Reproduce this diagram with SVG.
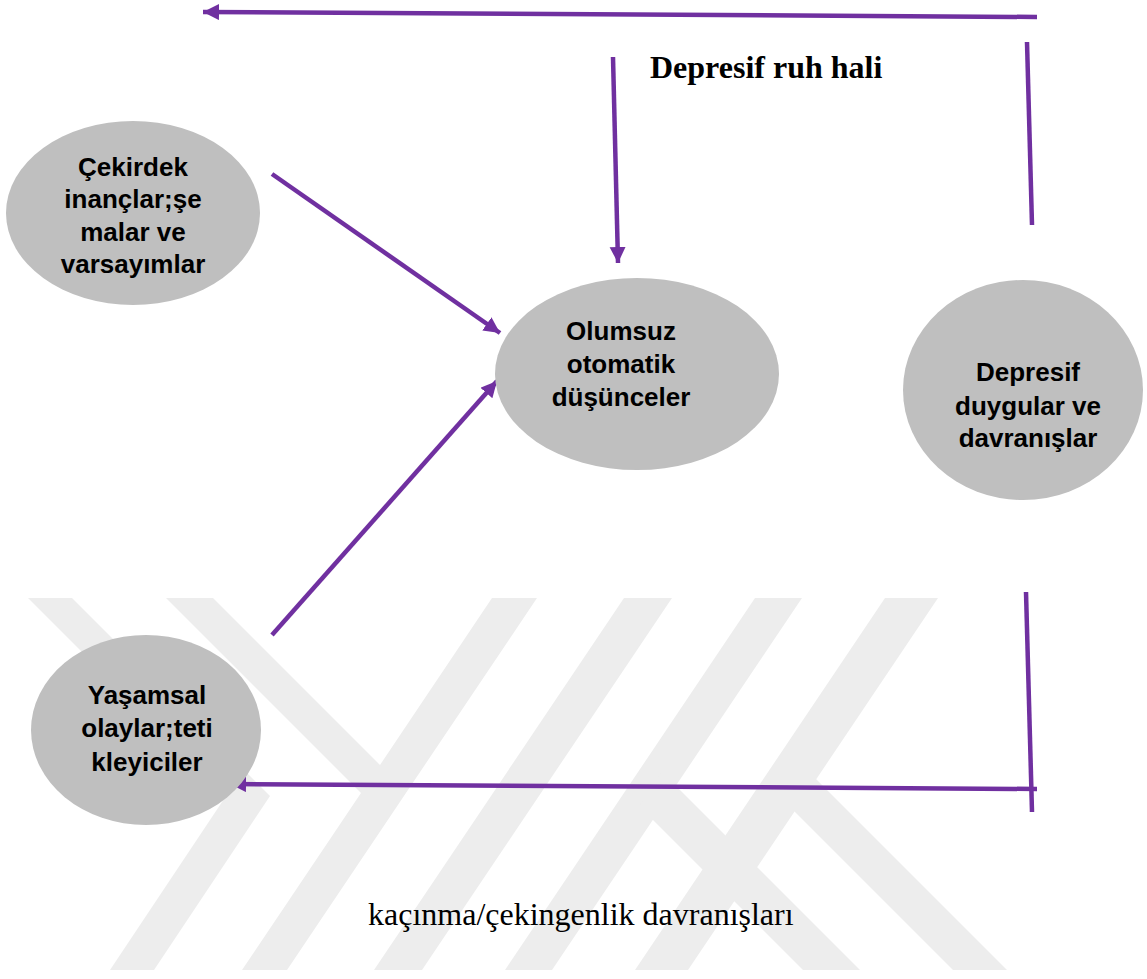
<svg xmlns="http://www.w3.org/2000/svg" width="1147" height="979" viewBox="0 0 1147 979">
  <style>
    .wm { fill: #ededed; }
    .node { fill: #bfbfbf; }
    .lbl { font-family: "Liberation Sans", Arial, sans-serif; font-weight: bold; font-size: 26px; fill: #000; text-anchor: middle; }
    .cap { font-family: "Liberation Serif", "Times New Roman", serif; font-size: 32px; fill: #000; }
    .con { stroke: #7030A0; stroke-width: 4.5; fill: none; }
  </style>
  <defs>
    <marker id="ah" markerUnits="userSpaceOnUse" markerWidth="20" markerHeight="18" refX="16" refY="8" orient="auto">
      <path d="M0,0 L16,8 L0,16 Z" fill="#7030A0"/>
    </marker>
  </defs>
  <rect width="1147" height="979" fill="#ffffff"/>
  <g id="watermark">
    <polygon class="wm" points="28,598 72,598 270,796 154,970 110,970 226,796"/>
    <polygon class="wm" points="166,598 213,598 380,765 492,598 537,598 287,970 242,970 361,793"/>
    <polygon class="wm" points="624,598 672,598 422,970 374,970"/>
    <polygon class="wm" points="755,598 802,598 552,970 505,970"/>
    <polygon class="wm" points="885,598 938,598 688,970 635,970"/>
    <polygon class="wm" points="662,772 860,970 803,970 639,806"/>
    <polygon class="wm" points="800,763 1007,970 953,970 778,795"/>
  </g>
  <g id="connectors">
    <line class="con" x1="1037" y1="17" x2="203" y2="12" marker-end="url(#ah)"/>
    <line class="con" x1="1027" y1="42" x2="1032" y2="225"/>
    <line class="con" x1="613" y1="57" x2="618" y2="263" marker-end="url(#ah)"/>
    <line class="con" x1="272" y1="174" x2="500" y2="333" marker-end="url(#ah)"/>
    <line class="con" x1="272" y1="635" x2="497" y2="381" marker-end="url(#ah)"/>
    <line class="con" x1="1026" y1="592" x2="1032" y2="812"/>
    <line class="con" x1="1037" y1="789" x2="230" y2="784" marker-end="url(#ah)"/>
  </g>
  <g id="node-cekirdek">
    <ellipse class="node" cx="133" cy="213" rx="127" ry="92"/>
    <text class="lbl" x="133" y="176">Çekirdek</text>
    <text class="lbl" x="133" y="208">inançlar;şe</text>
    <text class="lbl" x="133" y="241">malar ve</text>
    <text class="lbl" x="133" y="273">varsayımlar</text>
  </g>
  <g id="node-olumsuz">
    <ellipse class="node" cx="637" cy="374" rx="142" ry="96"/>
    <text class="lbl" x="621" y="340">Olumsuz</text>
    <text class="lbl" x="621" y="373">otomatik</text>
    <text class="lbl" x="621" y="406">düşünceler</text>
  </g>
  <g id="node-depresif">
    <ellipse class="node" cx="1023" cy="390" rx="120" ry="110"/>
    <text class="lbl" x="1028" y="381">Depresif</text>
    <text class="lbl" x="1028" y="415">duygular ve</text>
    <text class="lbl" x="1028" y="447">davranışlar</text>
  </g>
  <g id="node-yasamsal">
    <ellipse class="node" cx="146" cy="730" rx="115" ry="95"/>
    <text class="lbl" x="147" y="704">Yaşamsal</text>
    <text class="lbl" x="147" y="737">olaylar;teti</text>
    <text class="lbl" x="147" y="771">kleyiciler</text>
  </g>
  <g id="labels">
    <text class="cap" x="650" y="78" font-weight="bold">Depresif ruh hali</text>
    <text class="cap" x="368" y="925">kaçınma/çekingenlik davranışları</text>
  </g>
</svg>
